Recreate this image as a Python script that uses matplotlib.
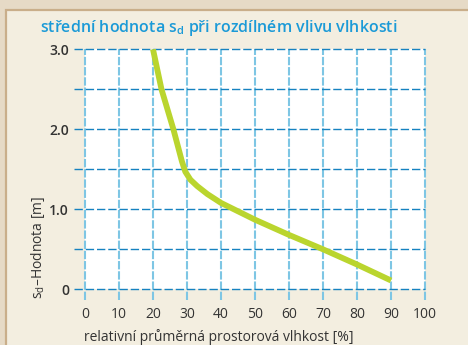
import matplotlib.pyplot as plt
from matplotlib.patches import Rectangle

# mean sd value vs. relative humidity
humidity = [20, 22.5, 26, 28.5, 29.5, 31, 33, 36, 40, 50, 60, 70, 80, 90]
sd_value = [3.0, 2.5, 2.0, 1.6, 1.47, 1.37, 1.29, 1.19, 1.08, 0.87, 0.68, 0.5, 0.31, 0.11]

x_ticks = [0, 10, 20, 30, 40, 50, 60, 70, 80, 90, 100]
y_ticks = [0, 1, 2, 3]
y_ticklabels = ['0', '1.0', '2.0', '3.0']
y_grid = [0, 0.5, 1.0, 1.5, 2.0, 2.5, 3.0]

W, H = 468, 345
plt.rcParams['font.family'] = ['Open Sans', 'DejaVu Sans']

fig = plt.figure(figsize=(W / 100, H / 100), dpi=100)
fig.patch.set_facecolor('#e6dac6')

# cream panel with tan frame
panel = Rectangle((5.5 / W, -0.05), 1.1, 1 - 9.5 / H + 0.05, transform=fig.transFigure,
                  facecolor='#f3eee0', edgecolor='#c9ae8a', linewidth=1.6, zorder=-10)
fig.patches.append(panel)

ax = fig.add_axes([85 / W, 1 - 289.3 / H, 340 / W, 240 / H])
ax.set_facecolor('white')
ax.set_xlim(0, 100)
ax.set_ylim(0, 3)
for s in ax.spines.values():
    s.set_visible(False)

for xv in x_ticks:
    ax.axvline(xv, ymin=-0.045, ymax=1, color='#7ec6e4', lw=1.5,
               dashes=(4, 0.9), clip_on=False, zorder=1)
for yv in y_grid:
    ax.axhline(yv, xmin=-0.032, xmax=1, color='#1682c0', lw=1.0,
               dashes=(6, 2.1), clip_on=False, zorder=2)

ax.plot(humidity, sd_value, color='#bad52e', lw=4.2, solid_capstyle='butt',
        solid_joinstyle='round', zorder=3)

ax.set_xticks(x_ticks)
ax.set_xticklabels([str(v) for v in x_ticks], fontsize=10, color='#333333')
ax.set_yticks(y_ticks)
ax.set_yticklabels(y_ticklabels, fontsize=10, color='#333333', fontweight='semibold')
ax.tick_params(axis='x', length=0, pad=12.5)
ax.tick_params(axis='y', length=0, pad=11.5)

fig.text(40 / W, 1 - 31.7 / H, 'střední hodnota s$_\\mathregular{d}$ při rozdílném vlivu vlhkosti',
         fontsize=11.5, color='#1b9ad7', fontweight='semibold', ha='left', va='baseline')
fig.text(38 / W, 1 - 247 / H, 's$_\\mathregular{d}$–Hodnota [m]', rotation=90,
         fontsize=10, color='#333333', ha='center', va='center')
fig.text(219 / W, 1 - 337 / H, 'relativní průměrná prostorová vlhkost [%]',
         fontsize=10, color='#333333', ha='center', va='center')

fig.savefig('out.png', dpi=100, facecolor=fig.get_facecolor())
